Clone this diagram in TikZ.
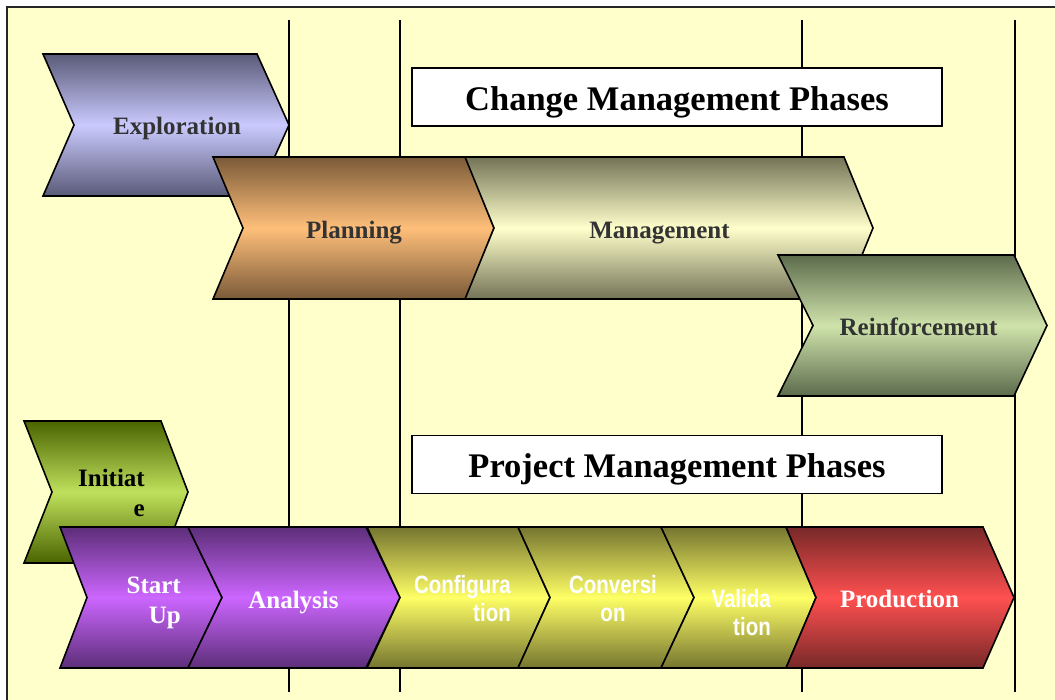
\documentclass[tikz,border=0pt]{standalone}
\usepackage{fontspec}
\setmainfont{Liberation Serif}
\newfontfamily\narrowsans{Liberation Sans}[FakeStretch=0.82]

% page and palette
\definecolor{pagebg}{HTML}{FFFFCC}
\definecolor{labelgray}{HTML}{333333}
\definecolor{exploreDark}{HTML}{5A5A78}
\definecolor{exploreLight}{HTML}{CACAFF}
\definecolor{planDark}{HTML}{7A5A38}
\definecolor{planLight}{HTML}{FFBF7A}
\definecolor{manageDark}{HTML}{737356}
\definecolor{manageLight}{HTML}{FFFFCC}
\definecolor{reinfDark}{HTML}{5C6B4C}
\definecolor{reinfLight}{HTML}{CFE3AB}
\definecolor{initDark}{HTML}{4A6400}
\definecolor{initLight}{HTML}{BFE05C}
\definecolor{violetDark}{HTML}{5C2E78}
\definecolor{violetLight}{HTML}{CC66FF}
\definecolor{oliveDark}{HTML}{757530}
\definecolor{oliveLight}{HTML}{FFFF66}
\definecolor{prodDark}{HTML}{772828}
\definecolor{prodLight}{HTML}{FF5050}

% chevron: #1 style, #2 left x, #3 right x, #4 top y, #5 bottom y,
%          #6 depth of the left notch, #7 depth of the right point
\newcommand\phasechev[7]{%
  \path[chevbox,#1] (#2,#4) -- ({#3-#7},#4) -- (#3,{(#4+#5)/2})
    -- ({#3-#7},#5) -- (#2,#5) -- ({#2+#6},{(#4+#5)/2}) -- cycle;}

\begin{document}
\begin{tikzpicture}[x=1pt,y=-1pt,
  chevbox/.style={draw=black, line width=1.6pt, line join=miter},
  shadeof/.style 2 args={top color=#1, bottom color=#1, middle color=#2},
  guide/.style={draw=black, line width=1.6pt},
  titlebox/.style={draw=black, line width=1.4pt, fill=white,
    minimum width=530pt, minimum height=58pt, inner sep=0pt},
  titletext/.style={font=\bfseries\fontsize{34.5}{40}\selectfont,
    inner sep=0pt, anchor=base},
  lbl/.style={font=\bfseries\fontsize{25}{30}\selectfont, inner sep=0pt},
  nlbl/.style={font=\narrowsans\bfseries\fontsize{25}{30}\selectfont,
    inner sep=0pt, text=white}
]
\useasboundingbox (0,0) rectangle (1055,700);
\fill[white] (0,0) rectangle (1055,700);
\fill[pagebg] (7,7) rectangle (1055,700);
\draw[line width=2pt, black!85] (7,700) -- (7,7) -- (1055,7);

% vertical phase boundaries
\foreach \gx [count=\i] in {289,400,802,1015}{
  \coordinate (g\i top) at (\gx,20);
  \coordinate (g\i bot) at (\gx,692);
  \draw[guide] (g\i top) -- (g\i bot);
}

% heading boxes
\node[titlebox] (cmpbox) at (677,97) {};
\node[titletext] (cmp) at (677,111) {Change Management Phases};
\node[titlebox] (pmpbox) at (677,464.5) {};
\node[titletext] (pmp) at (677,477) {Project Management Phases};

% change management chevrons
\phasechev{shadeof={exploreDark}{exploreLight}}{43}{289}{54}{196}{31}{32}
\phasechev{shadeof={planDark}{planLight}}{213}{494}{157}{299}{30}{28}
\phasechev{shadeof={manageDark}{manageLight}}{465}{873}{157}{299}{29}{29}
\phasechev{shadeof={reinfDark}{reinfLight}}{778}{1047}{255}{396}{35}{33}

\node[lbl, text=labelgray, anchor=base] (explore) at (177,135) {Exploration};
\node[lbl, text=labelgray, anchor=base] (plan) at (354,239) {Planning};
\node[lbl, text=labelgray, anchor=base] (manage) at (659.5,239) {Management};
\node[lbl, text=labelgray, anchor=base] (reinf) at (918.5,336) {Reinforcement};

% project management chevrons
\phasechev{shadeof={initDark}{initLight}}{24}{188}{421}{563}{28}{27}
\phasechev{shadeof={violetDark}{violetLight}}{60}{222}{527}{668}{27}{34}
\phasechev{shadeof={violetDark}{violetLight}}{188}{400}{527}{668}{34}{34}
\phasechev{shadeof={oliveDark}{oliveLight}}{367}{550}{527}{668}{33}{32}
\phasechev{shadeof={oliveDark}{oliveLight}}{518}{694}{527}{668}{32}{33}
\phasechev{shadeof={oliveDark}{oliveLight}}{661}{816}{527}{668}{33}{30}
\phasechev{shadeof={prodDark}{prodLight}}{786}{1014}{527}{668}{30}{31}

\node[lbl, text=black, anchor=base east] (init1) at (145,486) {Initiat};
\node[lbl, text=black, anchor=base east] (init2) at (145,516) {e};
\node[lbl, text=white, anchor=base east] (start1) at (181,593) {Start};
\node[lbl, text=white, anchor=base east] (start2) at (181,623) {Up};
\node[lbl, text=white, anchor=base] (analysis) at (293.5,608) {Analysis};
\node[nlbl, anchor=base east] (config1) at (511,593) {Configura};
\node[nlbl, anchor=base east] (config2) at (511,621) {tion};
\node[nlbl, anchor=base] (conv1) at (613,593) {Conversi};
\node[nlbl, anchor=base] (conv2) at (613,621) {on};
\node[nlbl, anchor=base east] (valid1) at (771,607) {Valida};
\node[nlbl, anchor=base east] (valid2) at (771,635) {tion};
\node[lbl, text=white, anchor=base] (prod) at (899.5,607) {Production};
\end{tikzpicture}
\end{document}
